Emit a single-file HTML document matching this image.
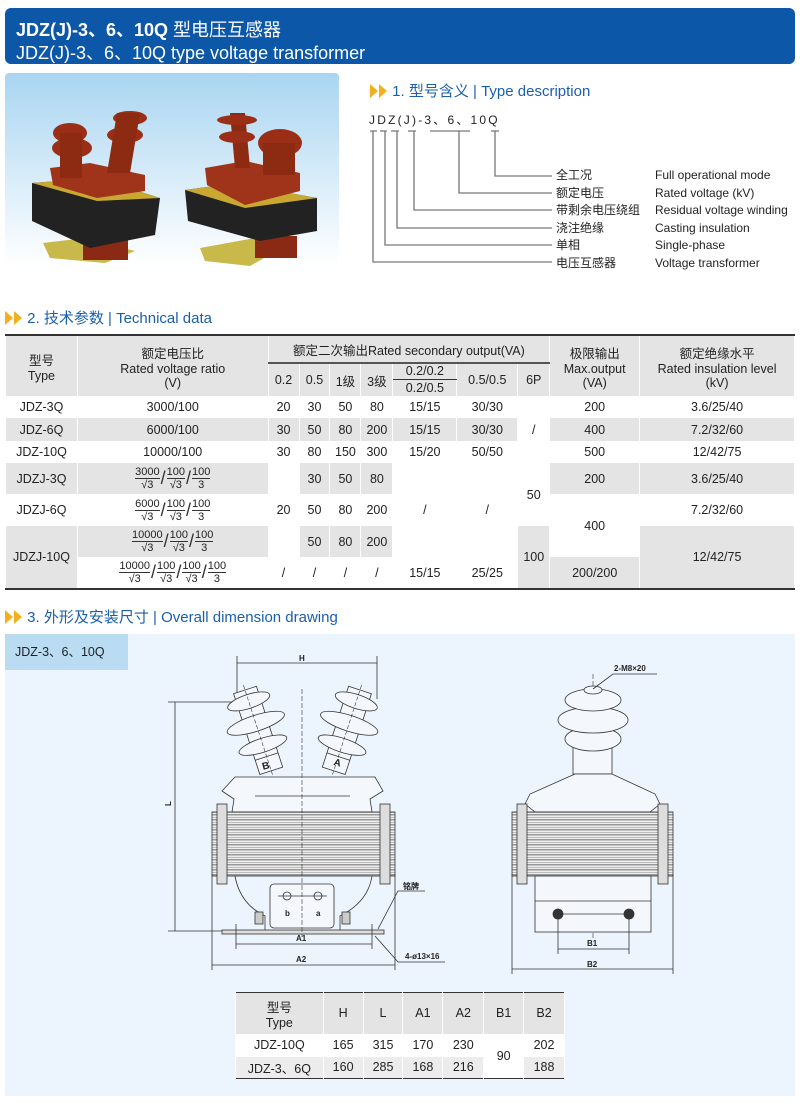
<!DOCTYPE html>
<html><head><meta charset="utf-8"><style>
body{margin:0;width:800px;height:1111px;background:#fff;position:relative;font-family:"Liberation Sans","Noto Sans CJK SC",sans-serif;overflow:hidden}
.a{position:absolute}
.hd{left:5px;top:8px;width:790px;height:56px;background:#0c57a7;border-radius:6px;color:#fff}
.sec{color:#1a5fae;font-size:15px;white-space:nowrap}
.arr{display:inline-block;width:0;height:0;border-top:7px solid transparent;border-bottom:7px solid transparent;border-left:8px solid #f2b01e;margin-right:1px;vertical-align:-2px}
table{border-collapse:collapse;position:absolute;font-size:12.5px;color:#222;text-align:center}
td{padding:0;border-left:1px solid #fff;border-right:1px solid #fff}
.g{background:#e4e4e4}
.lbl{font-size:12px;color:#222;white-space:nowrap}
.fr{display:inline-block;vertical-align:middle;text-align:center;font-size:11px;line-height:12px}
.fr span{display:block}
.fr .n{border-bottom:1px solid #333}
.sl{display:inline-block;vertical-align:middle;font-size:18px;font-weight:100;margin:0 1px;color:#333}
</style></head><body>
<div class="a hd">
<div class="a" style="left:11px;top:8px;font-size:18px;font-weight:bold;white-space:nowrap">JDZ(J)-3、6、10Q <span style="font-weight:normal">型电压互感器</span></div>
<div class="a" style="left:11px;top:31px;font-size:18px;white-space:nowrap">JDZ(J)-3、6、10Q type voltage transformer</div>
</div>
<!-- photo -->
<svg class="a" style="left:5px;top:73px" width="334" height="193">
<defs><linearGradient id="bg" x1="0" y1="0" x2="0" y2="1"><stop offset="0" stop-color="#a9d5f1"/><stop offset="1" stop-color="#fff"/></linearGradient></defs>
<rect width="334" height="193" rx="4" fill="url(#bg)"/>
<g>
<polygon points="38,170 80,165 130,178 100,190 45,185" fill="#c9b84a"/>
<rect x="78" y="165" width="45" height="22" fill="#8a2a14"/>
<polygon points="27,110 92,105 155,125 150,162 85,175 27,148" fill="#222"/>
<polygon points="27,110 92,105 155,125 92,128" fill="#c8a830"/>
<polygon points="45,95 85,90 140,102 140,118 92,125 48,112" fill="#a0341a"/>
<ellipse cx="65" cy="60" rx="17" ry="10" fill="#9a2e16"/><ellipse cx="67" cy="75" rx="20" ry="10" fill="#9a2e16"/><rect x="55" y="60" width="22" height="45" fill="#8d2a12"/>
<ellipse cx="125" cy="45" rx="17" ry="7" fill="#9a2e16"/><ellipse cx="120" cy="62" rx="18" ry="8" fill="#9a2e16"/><polygon points="112,40 135,40 125,100 102,100" fill="#8d2a12"/>
</g>
<g>
<polygon points="195,175 250,165 268,180 245,193 200,188" fill="#c9b84a"/>
<rect x="250" y="163" width="42" height="22" fill="#8a2a14"/>
<polygon points="180,117 230,110 312,125 312,158 255,168 183,148" fill="#222"/>
<polygon points="180,117 230,110 312,125 240,135" fill="#c8a830"/>
<polygon points="200,95 240,88 295,100 295,118 240,132 202,112" fill="#a0341a"/>
<polygon points="225,40 240,40 245,95 230,95" fill="#8d2a12"/><ellipse cx="232" cy="47" rx="20" ry="5" fill="#9a2e16"/><ellipse cx="232" cy="64" rx="18" ry="6" fill="#9a2e16"/>
<ellipse cx="275" cy="70" rx="22" ry="14" fill="#9a2e16"/><rect x="258" y="70" width="32" height="32" fill="#8d2a12"/>
</g>
</svg>
<!-- section 1 -->
<div class="a sec" style="left:370px;top:80px"><span class="arr"></span><span class="arr"></span> 1. 型号含义 | Type description</div>
<div class="a" style="left:369px;top:111px;font-size:12px;letter-spacing:2.2px;color:#222;white-space:nowrap">JDZ(J)-3、6、10Q</div>
<svg class="a" style="left:0;top:0" width="800" height="280">
<g stroke="#777" stroke-width="1.3" fill="none">
<path d="M370,131h7M380,131h7M391,131h8M408,131h8M430,131h40M491,131h8"/>
<path d="M495,131V176H552M459,131V193H552M414,131V210H552M397,131V228H552M385,131V245H552M373,131V262H552"/>
</g></svg>
<div class="a lbl" style="left:556px;top:167px;line-height:17.5px">全工况<br>额定电压<br>带剩余电压绕组<br>浇注绝缘<br>单相<br>电压互感器</div>
<div class="a lbl" style="left:655px;top:167px;line-height:17.5px">Full operational mode<br>Rated voltage (kV)<br>Residual voltage winding<br>Casting insulation<br>Single-phase<br>Voltage transformer</div>
<!-- section 2 -->
<div class="a sec" style="left:5px;top:307px"><span class="arr"></span><span class="arr"></span> 2. 技术参数 | Technical data</div>
<div class="a" style="left:5px;top:334px;width:790px;height:2px;background:#333"></div>
<div class="a" style="left:5px;top:588px;width:790px;height:2px;background:#333"></div>
<table style="left:5px;top:336px;width:790px">
<colgroup><col style="width:72px"><col style="width:191px"><col style="width:31px"><col style="width:31px"><col style="width:31px"><col style="width:32px"><col style="width:64px"><col style="width:61px"><col style="width:32px"><col style="width:90px"><col style="width:155px"></colgroup>
<tr class="g" style="height:27px"><td rowspan="3">型号<br>Type</td><td rowspan="3">额定电压比<br>Rated voltage ratio<br>(V)</td><td colspan="7" style="border-bottom:2px solid #555">额定二次输出Rated secondary output(VA)</td><td rowspan="3">极限输出<br>Max.output<br>(VA)</td><td rowspan="3">额定绝缘水平<br>Rated insulation level<br>(kV)</td></tr>
<tr class="g" style="height:16px"><td rowspan="2">0.2</td><td rowspan="2">0.5</td><td rowspan="2">1级</td><td rowspan="2">3级</td><td style="border-bottom:1px solid #333">0.2/0.2</td><td rowspan="2">0.5/0.5</td><td rowspan="2">6P</td></tr>
<tr class="g" style="height:17px"><td>0.2/0.5</td></tr>
<tr style="height:22px"><td>JDZ-3Q</td><td>3000/100</td><td>20</td><td>30</td><td>50</td><td>80</td><td>15/15</td><td>30/30</td><td rowspan="3">/</td><td>200</td><td>3.6/25/40</td></tr>
<tr class="g" style="height:23px"><td>JDZ-6Q</td><td>6000/100</td><td>30</td><td>50</td><td>80</td><td>200</td><td>15/15</td><td>30/30</td><td>400</td><td>7.2/32/60</td></tr>
<tr style="height:22px"><td>JDZ-10Q</td><td>10000/100</td><td>30</td><td>80</td><td>150</td><td>300</td><td>15/20</td><td>50/50</td><td>500</td><td>12/42/75</td></tr>
<tr class="g" style="height:31px"><td>JDZJ-3Q</td><td><span class="fr"><span class="n">3000</span><span>√3</span></span><span class="sl">/</span><span class="fr"><span class="n">100</span><span>√3</span></span><span class="sl">/</span><span class="fr"><span class="n">100</span><span>3</span></span></td><td rowspan="3" style="background:#fff">20</td><td>30</td><td>50</td><td>80</td><td rowspan="3" style="background:#fff">/</td><td rowspan="3" style="background:#fff">/</td><td rowspan="2" style="background:#fff">50</td><td>200</td><td>3.6/25/40</td></tr>
<tr style="height:32px"><td>JDZJ-6Q</td><td><span class="fr"><span class="n">6000</span><span>√3</span></span><span class="sl">/</span><span class="fr"><span class="n">100</span><span>√3</span></span><span class="sl">/</span><span class="fr"><span class="n">100</span><span>3</span></span></td><td>50</td><td>80</td><td>200</td><td rowspan="2">400</td><td>7.2/32/60</td></tr>
<tr class="g" style="height:31px"><td rowspan="2">JDZJ-10Q</td><td><span class="fr"><span class="n">10000</span><span>√3</span></span><span class="sl">/</span><span class="fr"><span class="n">100</span><span>√3</span></span><span class="sl">/</span><span class="fr"><span class="n">100</span><span>3</span></span></td><td>50</td><td>80</td><td>200</td><td rowspan="2">100</td><td rowspan="2">12/42/75</td></tr>
<tr class="g" style="height:31px"><td style="background:#fff"><span class="fr"><span class="n">10000</span><span>√3</span></span><span class="sl">/</span><span class="fr"><span class="n">100</span><span>√3</span></span><span class="sl">/</span><span class="fr"><span class="n">100</span><span>√3</span></span><span class="sl">/</span><span class="fr"><span class="n">100</span><span>3</span></span></td><td style="background:#fff">/</td><td style="background:#fff">/</td><td style="background:#fff">/</td><td style="background:#fff">/</td><td style="background:#fff">15/15</td><td style="background:#fff">25/25</td><td>200/200</td></tr>
</table>
<!-- section 3 -->
<div class="a sec" style="left:5px;top:606px"><span class="arr"></span><span class="arr"></span> 3. 外形及安装尺寸 | Overall dimension drawing</div>
<div class="a" style="left:5px;top:634px;width:790px;height:462px;background:#ecf5fd"></div>
<div class="a" style="left:5px;top:634px;width:123px;height:36px;background:#b9dcf3;font-size:12.5px;line-height:36px;text-indent:10px;color:#222">JDZ-3、6、10Q</div>
<svg class="a" style="left:0;top:634px" width="800" height="360" font-family="Liberation Sans" font-weight="bold" font-size="8">
<defs>
<pattern id="st" width="10" height="5" patternUnits="userSpaceOnUse"><rect width="10" height="5" fill="#eee"/><rect y="0" width="10" height="1.5" fill="#999"/><rect y="3" width="10" height="1" fill="#bbb"/></pattern>
<g id="ins"><path d="M-12,0 L-12,85 L12,85 L12,0Z" fill="#f4f8fc" stroke="#333"/>
<ellipse cx="0" cy="12" rx="22" ry="7" fill="#f4f8fc" stroke="#333"/><ellipse cx="0" cy="35" rx="30" ry="8" fill="#f4f8fc" stroke="#333"/><ellipse cx="0" cy="58" rx="25" ry="7" fill="#f4f8fc" stroke="#333"/>
<path d="M-12,70 h24" stroke="#333"/><line x1="0" y1="-5" x2="0" y2="90" stroke="#333" stroke-dasharray="4,2" stroke-width=".6"/></g>
</defs>
<g stroke="#333" fill="none" stroke-width=".8">
<line x1="237" y1="29" x2="377" y2="29"/><line x1="237" y1="22" x2="237" y2="68"/><line x1="377" y1="22" x2="377" y2="65"/><path d="M237,68H168"/>
<line x1="175" y1="68" x2="175" y2="297"/><line x1="168" y1="297" x2="230" y2="297"/>
<use href="#ins" transform="translate(245,56) rotate(-18)"/>
<use href="#ins" transform="translate(360,56) rotate(18)"/>
<path d="M235,143 L375,143 L383,157 L370,165 L372,178 L232,178 L234,165 L222,157Z" fill="#f4f8fc"/>
<line x1="255" y1="162" x2="350" y2="162"/>
<rect x="212" y="178" width="183" height="64" fill="url(#st)"/>
<rect x="217" y="170" width="10" height="80" fill="#ddd"/><rect x="380" y="170" width="10" height="80" fill="#ddd"/>
<path d="M235,242 Q240,270 265,282 L265,297 M372,242 Q368,268 340,282 L340,297"/>
<rect x="270" y="250" width="64" height="44" rx="4" fill="#f4f8fc"/>
<circle cx="287" cy="262" r="4"/><circle cx="318" cy="262" r="4"/><line x1="278" y1="262" x2="327" y2="262"/>
<rect x="255" y="278" width="8" height="12" fill="#ccc"/><rect x="342" y="278" width="8" height="12" fill="#ccc"/>
<rect x="222" y="296" width="162" height="4" fill="#ddd"/>
<line x1="302" y1="55" x2="302" y2="303" stroke-dasharray="5,2" stroke-width=".6"/>
<line x1="236" y1="290" x2="236" y2="315"/><line x1="372" y1="290" x2="372" y2="315"/><line x1="236" y1="310" x2="372" y2="310"/>
<line x1="212" y1="240" x2="212" y2="336"/><line x1="395" y1="240" x2="395" y2="336"/><line x1="212" y1="331" x2="395" y2="331"/>
<path d="M378,295 L398,257 L425,257 M375,302 L398,328 L445,328"/>
<line x1="593" y1="40" x2="593" y2="305" stroke-dasharray="5,2" stroke-width=".6"/>
<path d="M573,110 L573,140 L612,140 L612,110Z" fill="#f4f8fc"/>
<ellipse cx="593" cy="105" rx="28" ry="12" fill="#f4f8fc"/><ellipse cx="593" cy="86" rx="35" ry="13" fill="#f4f8fc"/><ellipse cx="593" cy="66" rx="28" ry="11" fill="#f4f8fc"/>
<ellipse cx="593" cy="56" rx="9" ry="4" fill="#f4f8fc"/>
<path d="M575,140 L530,160 L525,170 L535,178 L650,178 L660,170 L655,160 L612,140Z" fill="#f4f8fc"/>
<rect x="512" y="178" width="161" height="64" fill="url(#st)"/>
<rect x="517" y="170" width="10" height="80" fill="#ddd"/><rect x="658" y="170" width="10" height="80" fill="#ddd"/>
<rect x="535" y="242" width="116" height="56" fill="#f4f8fc"/><line x1="535" y1="267" x2="651" y2="267"/>
<circle cx="558" cy="280" r="5" fill="#333"/><circle cx="629" cy="280" r="5" fill="#333"/><line x1="558" y1="280" x2="629" y2="280"/>
<line x1="558" y1="285" x2="558" y2="320"/><line x1="629" y1="285" x2="629" y2="320"/><line x1="558" y1="315" x2="629" y2="315"/>
<line x1="512" y1="240" x2="512" y2="340"/><line x1="673" y1="240" x2="673" y2="340"/><line x1="512" y1="335" x2="673" y2="335"/>
<path d="M593,55 L613,40 L657,40"/>
</g>
<g fill="#222"><text x="299" y="27">H</text><text x="167" y="172" transform="rotate(-90 169 170)">L</text>
<text x="262" y="135" font-size="10" transform="rotate(-15 266 131)">B</text><text x="334" y="132" font-size="10" transform="rotate(15 338 128)">A</text>
<text x="285" y="282">b</text><text x="316" y="282">a</text>
<text x="296" y="307">A1</text><text x="296" y="328">A2</text>
<text x="403" y="255">铭牌</text><text x="405" y="325">4-ø13×16</text>
<text x="614" y="37">2-M8×20</text><text x="587" y="312">B1</text><text x="587" y="333">B2</text></g>
</svg>
<table style="left:235px;top:992px;width:330px;border:1.5px solid #333;font-size:12.5px">
<colgroup><col style="width:88px"><col style="width:40px"><col style="width:40px"><col style="width:40px"><col style="width:41px"><col style="width:40px"><col style="width:41px"></colgroup>
<tr class="g" style="height:41px"><td>型号<br>Type</td><td>H</td><td>L</td><td>A1</td><td>A2</td><td>B1</td><td>B2</td></tr>
<tr style="height:23px;background:#fff"><td>JDZ-10Q</td><td>165</td><td>315</td><td>170</td><td>230</td><td rowspan="2" style="background:#fff">90</td><td>202</td></tr>
<tr class="g" style="height:22px;background:#ececec"><td>JDZ-3、6Q</td><td>160</td><td>285</td><td>168</td><td>216</td><td>188</td></tr>
</table>
</body></html>
